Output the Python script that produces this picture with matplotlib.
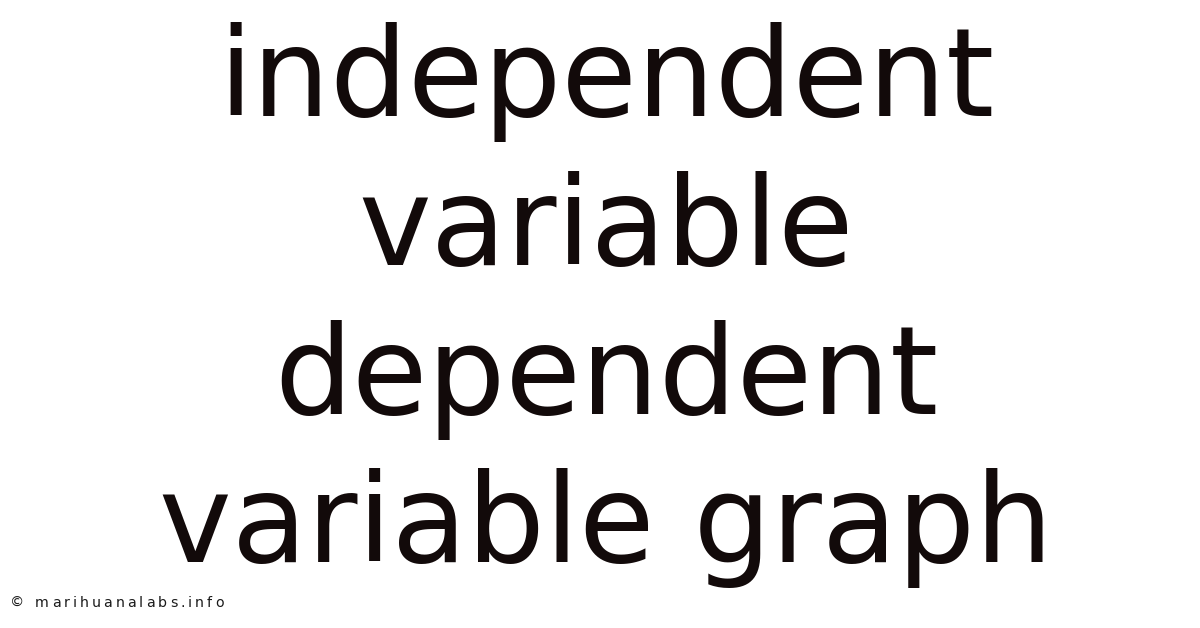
import matplotlib
matplotlib.use("Agg")
import matplotlib.pyplot as plt

# title lines and their baselines (pixels from top)
lines = ["independent", "variable", "dependent", "variable graph"]
baselines = [116, 265, 414, 562]
watermark = "© marihuanalabs.info"

W, H = 1200, 628
fig = plt.figure(figsize=(12, 6.28), dpi=100)
fig.patch.set_facecolor("white")

for text, yb in zip(lines, baselines):
    fig.text(606 / W, 1 - yb / H, text, fontsize=88.5, family="DejaVu Sans",
             color="#120a0a", ha="center", va="baseline")

# watermark has wide letter spacing, so lay it out char by char
renderer = fig.canvas.get_renderer()
x = 10.0
for ch in watermark:
    t = fig.text(x / W, 1 - 607 / H, ch, fontsize=10.2, family="DejaVu Sans",
                 weight="medium", color="#1a1a1a", ha="left", va="baseline")
    if ch == " ":
        adv = 5.0
    else:
        adv = t.get_window_extent(renderer).width
    x += adv + 3.0

fig.savefig("out.png", dpi=100, facecolor="white")
